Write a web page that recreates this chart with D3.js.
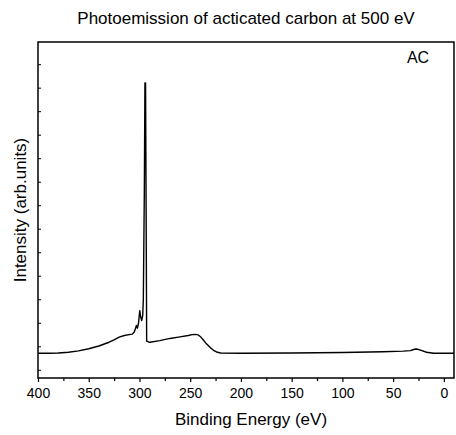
<!DOCTYPE html>
<html>
<head>
<meta charset="utf-8">
<script src="https://cdn.jsdelivr.net/npm/d3@7"></script>
<style>
  html, body { margin: 0; padding: 0; background: #fff; }
  svg { display: block; font-family: 'Liberation Sans', Arial, sans-serif; }
</style>
</head>
<body>
<div id="chart"></div>
<script>
// spectrum (binding energy in eV, intensity in arb. units)
const bindingEnergy = [
  400, 390, 380, 370, 360, 350, 340, 330, 325, 320, 315, 310, 307, 305, 303, 302, 301,
  299.7, 298.8, 297.8, 296.8, 296.2, 295.2, 294.6, 294.0, 293.4, 292.9, 291, 289.6,
  280, 270, 260, 252, 248, 245, 242, 239.5, 237, 234, 230.5, 227, 224, 220, 200, 150,
  100, 60, 40, 33, 29, 26.8, 23, 17, 10, 0, -10,
];
const intensity = [
  0, 0, 0.1, 0.4, 0.9, 1.7, 2.7, 4.1, 5.0, 6.0, 6.6, 6.9, 7.1, 8.0, 10.3, 9.3, 11,
  15.8, 13.5, 12.1, 14, 19.7, 60, 100, 100, 50, 4.5, 4.2, 4.1,
  4.7, 5.5, 6.1, 6.6, 6.9, 7.0, 6.8, 6.0, 4.9, 3.5, 2.2, 1.1, 0.5, 0.1, 0.0, 0.1,
  0.3, 0.6, 0.8, 1.0, 1.5, 1.6, 1.2, 0.4, 0.0, 0, 0,
];

const xMajorTicks = [400, 350, 300, 250, 200, 150, 100, 50, 0];
const xMinorTicks = [375, 325, 275, 225, 175, 125, 75, 25];
const yTicks = [107, 98.3, 89.6, 80.9, 72.2, 63.5, 54.8, 46.1, 37.4, 28.7, 20, 11.3, 2.6, -6.1];

const title = 'Photoemission of acticated carbon at 500 eV';
const seriesName = 'AC';

const width = 456;
const height = 435;
const frame = { l: 38, r: 454, t: 42, b: 378 };

const svg = d3
  .select('#chart')
  .append('svg')
  .attr('width', width)
  .attr('height', height);

const x = d3.scaleLinear().domain([400, -10]).range([frame.l, frame.r]);
const y = d3.scaleLinear().domain([-9.14, 115.2]).range([frame.b, frame.t]);

const points = bindingEnergy.map((be, i) => [be, intensity[i]]);

// x axis: major ticks with labels, minor ticks without
svg
  .append('g')
  .attr('transform', `translate(0,${frame.b})`)
  .call(d3.axisBottom(x).tickValues(xMajorTicks).tickSize(4).tickPadding(6).tickFormat(d3.format('d')))
  .call((g) => g.select('.domain').remove())
  .call((g) => g.selectAll('line').attr('stroke', '#000').attr('stroke-width', 1.2))
  .call((g) => g.selectAll('text').attr('font-size', '14px').attr('fill', '#000').attr('font-family', 'Liberation Sans, Arial, sans-serif'));

svg
  .append('g')
  .attr('transform', `translate(0,${frame.b})`)
  .call(d3.axisBottom(x).tickValues(xMinorTicks).tickSize(3).tickFormat(''))
  .call((g) => g.select('.domain').remove())
  .call((g) => g.selectAll('line').attr('stroke', '#000').attr('stroke-width', 1.2));

// y axis: inward ticks, no labels
svg
  .append('g')
  .attr('transform', `translate(${frame.l},0)`)
  .call(d3.axisRight(y).tickValues(yTicks).tickSize(3).tickFormat(''))
  .call((g) => g.select('.domain').remove())
  .call((g) => g.selectAll('line').attr('stroke', '#000').attr('stroke-width', 1));

// spectrum
const line = d3
  .line()
  .x((d) => x(d[0]))
  .y((d) => y(d[1]));

svg
  .append('path')
  .datum(points)
  .attr('d', line)
  .attr('fill', 'none')
  .attr('stroke', '#000')
  .attr('stroke-width', 1.4)
  .attr('stroke-linejoin', 'round');

// frame
svg
  .append('rect')
  .attr('x', frame.l)
  .attr('y', frame.t)
  .attr('width', frame.r - frame.l)
  .attr('height', frame.b - frame.t)
  .attr('fill', 'none')
  .attr('stroke', '#000')
  .attr('stroke-width', 1.5);

// texts
svg
  .append('text')
  .attr('x', 246)
  .attr('y', 24)
  .attr('text-anchor', 'middle')
  .attr('font-size', '17px')
  .text(title);

svg
  .append('text')
  .attr('x', 251)
  .attr('y', 425)
  .attr('text-anchor', 'middle')
  .attr('font-size', '17px')
  .text('Binding Energy (eV)');

svg
  .append('text')
  .attr('transform', `translate(26,${(frame.t + frame.b) / 2}) rotate(-90)`)
  .attr('text-anchor', 'middle')
  .attr('font-size', '17px')
  .text('Intensity (arb.units)');

svg
  .append('text')
  .attr('x', 418)
  .attr('y', 63)
  .attr('text-anchor', 'middle')
  .attr('font-size', '16px')
  .text(seriesName);
</script>
</body>
</html>
